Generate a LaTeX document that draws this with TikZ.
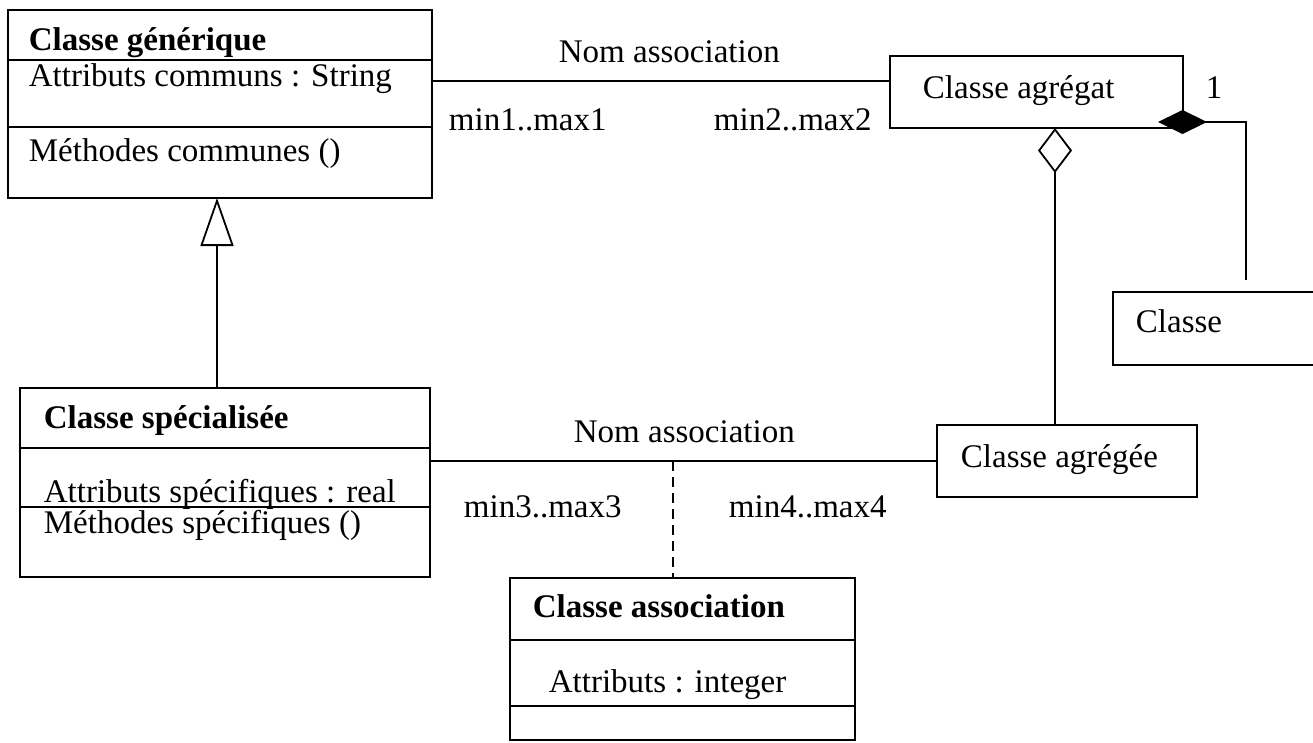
\documentclass[tikz,border=0pt]{standalone}
\usepackage{fontspec}
\setmainfont{Liberation Serif}
\usetikzlibrary{arrows.meta}

\begin{document}
\begin{tikzpicture}[x=1pt,y=-1pt,
  line width=1.8pt,
  box/.style={draw, rectangle, inner sep=0pt, outer sep=0pt, anchor=north west},
  lbl/.style={anchor=base west, inner sep=0pt, font=\fontsize{33}{38}\selectfont},
  ttl/.style={lbl, font=\fontsize{33}{38}\selectfont\bfseries},
  generalise/.style={-{Triangle[open, length=48pt, width=33pt, line width=1.8pt]}},
  aggreg/.style={-{Diamond[open, length=45pt, width=34pt, line width=1.8pt]}},
  compos/.style={-{Diamond[length=49pt, width=24pt]}},
  linkdash/.style={dash pattern=on 10pt off 6pt}]

\useasboundingbox (0,0) rectangle (1313,742);

% --- class boxes ---
\node[box, minimum width=424pt, minimum height=188pt] (gen) at (8,10) {};
\node[box, minimum width=410pt, minimum height=189pt] (spec) at (20,388) {};
\node[box, minimum width=293pt, minimum height=72pt] (agg) at (890,56) {};
\node[box, minimum width=220pt, minimum height=73pt] (cls) at (1113,292) {};
\node[box, minimum width=260pt, minimum height=72pt] (agd) at (937,425) {};
\node[box, minimum width=345pt, minimum height=162pt] (assoc) at (510,578) {};

% --- compartment dividers ---
\draw (gen.north west) ++(0,50) -- ++(424,0);
\draw (gen.north west) ++(0,117) -- ++(424,0);
\draw (spec.north west) ++(0,60) -- ++(410,0);
\draw (spec.north west) ++(0,119) -- ++(410,0);
\draw (assoc.north west) ++(0,62) -- ++(345,0);
\draw (assoc.north west) ++(0,128) -- ++(345,0);

% --- texts of the classes ---
\node[ttl] (tgen) at (28,50) {Classe générique};
\node[lbl] (agen) at (28,86) {Attributs communs : String};
\node[lbl] (mgen) at (28,161) {Méthodes communes ()};

\node[ttl] (tspec) at (43,428) {Classe spécialisée};
\node[lbl] (aspec) at (43,502) {Attributs spécifiques : real};
\node[lbl] (mspec) at (43,533) {Méthodes spécifiques ()};

\node[lbl] (tagg) at (922,98) {Classe agrégat};
\node[lbl] (tcls) at (1135,332) {Classe};
\node[lbl] (tagd) at (960,467) {Classe agrégée};

\node[ttl] (tassoc) at (532,617) {Classe association};
\node[lbl] (aassoc) at (548,692) {Attributs : integer};

% --- generalisation ---
\draw[generalise] ([xshift=197pt]spec.north west) -- ([xshift=209pt]gen.south west);

% --- association between generic class and aggregate ---
\draw ([yshift=-71pt]gen.north east) -- ([yshift=-71pt]gen.north east -| agg.west);
\node[lbl] (nom1) at (558,62) {Nom association};
\node[lbl] (m1) at (448,130) {min1..max1};
\node[lbl] (m2) at (713,130) {min2..max2};

% --- aggregation ---
\draw[aggreg] ([xshift=118pt]agd.north west) -- ([xshift=165pt]agg.south west);

% --- composition ---
\draw[compos] ([xshift=133pt, yshift=12pt]cls.north west) |- ([xshift=-25pt, yshift=6pt]agg.south east);
\node[lbl] (one) at (1205,98) {1};

% --- association between specialised class and aggregated class ---
\draw (agd.west -| spec.east) -- (agd.west);
\node[lbl] (nom2) at (573,442) {Nom association};
\node[lbl] (m3) at (463,517) {min3..max3};
\node[lbl] (m4) at (728,517) {min4..max4};

% --- association class link ---
\coordinate (alink) at (673,461);
\draw[linkdash] (alink) -- (alink |- assoc.north);

\end{tikzpicture}
\end{document}
